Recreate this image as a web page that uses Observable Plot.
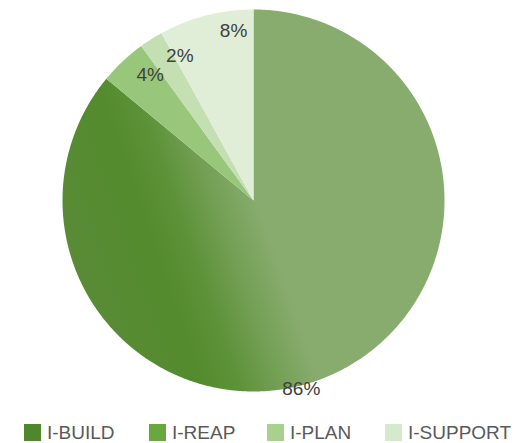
<!DOCTYPE html>
<html><head><meta charset="utf-8">
<script src="https://cdn.jsdelivr.net/npm/d3@7"></script>
<script src="https://cdn.jsdelivr.net/npm/@observablehq/plot@0.6"></script>
<style>
body{margin:0;background:#fff;}
#chart{width:516px;height:443px;position:relative;overflow:hidden;background:#fff;}
#legend{position:absolute;left:24px;top:422px;height:20px;}
.lg-swatches{margin:0 !important;font-family:"Liberation Sans",Arial,sans-serif !important;font-size:19px !important;line-height:19px !important;color:#595959 !important;min-height:0 !important;height:20px;flex-wrap:nowrap !important;}
.lg-swatches-wrap .lg-swatch{margin-right:0 !important;white-space:nowrap;}
.lg-swatch > svg{margin-right:6px !important;}
.lg-swatch:nth-child(2){width:125px;}
.lg-swatch:nth-child(3){width:118px;}
.lg-swatch:nth-child(4){width:118px;}
</style></head><body><div id="chart"><div id="plot"></div><div id="legend"></div></div><script>
// ---- data ----
const categories = ["I-BUILD", "I-REAP", "I-PLAN", "I-SUPPORT"];
const values = [86, 4, 2, 8];
const labels = ["86%", "4%", "2%", "8%"];
const sliceColors = ["url(#gradBuild)", "#98c77b", "#c4e0b2", "#e0eed7"];
const legendColors = ["#4f872c", "#68a83f", "#a9d18e", "#d5eacb"];

// ---- layout ----
const W = 516, H = 410, cx = 253, cy = 200, R = 191;
const labelAngleShift = [11, 3.7, 5.4, 7.7];   // degrees (Excel best-fit placement)
const labelRadius = [1.02, 0.85, 0.85, 0.895];

const data = categories.map((c, i) => ({key: c, value: values[i], label: labels[i]}));
const arcs = d3.pie().sort(null).value(d => d.value)(data);

const pts = [];
for (const a of arcs) {
  pts.push({key: a.data.key, x: 0, y: 0});
  const n = Math.max(2, Math.ceil((a.endAngle - a.startAngle) / 0.005));
  for (let k = 0; k <= n; k++) {
    const t = a.startAngle + (a.endAngle - a.startAngle) * k / n;
    pts.push({key: a.data.key, x: Math.sin(t), y: Math.cos(t)});
  }
}
const labelPts = arcs.map((a, i) => {
  const t = (a.startAngle + a.endAngle) / 2 + labelAngleShift[i] * Math.PI / 180;
  return {label: a.data.label, x: labelRadius[i] * Math.sin(t), y: labelRadius[i] * Math.cos(t)};
});

const plot = Plot.plot({
  width: W, height: H,
  marginLeft: cx - R, marginRight: W - (cx + R), marginTop: cy - R, marginBottom: H - (cy + R),
  x: {domain: [-1, 1], axis: null},
  y: {domain: [-1, 1], axis: null},
  color: {domain: categories, range: sliceColors},
  style: {background: "#fff"},
  marks: [
    Plot.line(pts, {x: "x", y: "y", z: "key", fill: "key", stroke: "none", curve: "linear"}),
    Plot.text(labelPts, {x: "x", y: "y", text: "label", fontSize: 19, fill: "#404040",
      fontFamily: "Liberation Sans, Arial, sans-serif"})
  ]
});

// gradient for the large slice
const ux = 0.945, uy = -0.326;
const defs = d3.select(plot).insert("defs", ":first-child");
const g = defs.append("linearGradient").attr("id", "gradBuild").attr("gradientUnits", "userSpaceOnUse")
  .attr("x1", cx - 200 * ux).attr("y1", cy - 200 * uy)
  .attr("x2", cx + 100 * ux).attr("y2", cy + 100 * uy);
[[0, "#5a8b37"], [0.3, "#548b2e"], [0.42, "#5e9239"], [0.55, "#74a056"], [0.68, "#88ac6e"], [1, "#88ac6e"]]
  .forEach(([o, c]) => g.append("stop").attr("offset", o).attr("stop-color", c));

document.getElementById("plot").append(plot);

const legend = Plot.legend({
  color: {type: "ordinal", domain: categories, range: legendColors},
  swatchSize: 17, className: "lg"
});
document.getElementById("legend").append(legend);
</script></body></html>
